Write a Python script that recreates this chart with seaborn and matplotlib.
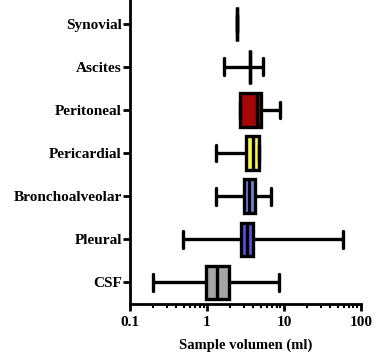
import pandas as pd
import matplotlib.pyplot as plt
import seaborn as sns

# Sample types (top to bottom) and five-number summaries
samples = ['Synovial', 'Ascites', 'Peritoneal', 'Pericardial',
           'Bronchoalveolar', 'Pleural', 'CSF']
mins = [2.45, 1.65, 2.7, 1.3, 1.3, 0.49, 0.2]
q1s = [2.45, 3.6, 2.7, 3.2, 3.0, 2.75, 0.98]
medians = [2.45, 3.6, 4.45, 4.0, 3.5, 3.3, 1.35]
q3s = [2.45, 3.6, 5.0, 4.7, 4.2, 3.9, 1.9]
maxs = [2.45, 5.3, 8.9, 4.7, 6.8, 59, 8.7]
colors = ['black', 'white', '#a50606', '#f7f74a', '#6f82dc', '#5454dc', '#a6a6a6']
xticks = [0.1, 1, 10, 100]
xtick_labels = ['0.1', '1', '10', '100']

# five points per group -> quartiles land exactly on the summary values
rows = []
for i, s in enumerate(samples):
    for v in (mins[i], q1s[i], medians[i], q3s[i], maxs[i]):
        rows.append({'sample': s, 'volume': v})
df = pd.DataFrame(rows)

sns.set_style('ticks')
plt.rcParams['font.family'] = ['Liberation Serif', 'DejaVu Serif']
plt.rcParams['text.color'] = 'black'
plt.rcParams['axes.labelcolor'] = 'black'
plt.rcParams['xtick.color'] = 'black'
plt.rcParams['ytick.color'] = 'black'

fig = plt.figure(figsize=(3.91, 3.56), dpi=100)
ax = fig.add_axes([0.333, 0.146, 0.59, 0.854])

sns.boxplot(data=df, x='volume', y='sample', hue='sample', order=samples,
            hue_order=samples, palette=colors, legend=False, whis=(0, 100),
            saturation=1, linecolor='black', linewidth=2.4, width=0.78,
            log_scale=True, ax=ax)

ax.set_xlim(0.1, 100)
ax.set_ylim(6.5, -0.55)
ax.set_xticks(xticks, labels=xtick_labels)
ax.set_xlabel('Sample volumen (ml)', fontsize=10.5, fontweight='bold', labelpad=7)
ax.set_ylabel('')
for lab in ax.get_xticklabels() + ax.get_yticklabels():
    lab.set_fontweight('bold')
    lab.set_fontsize(11)
ax.tick_params(axis='both', which='major', width=2, length=5, color='black')
ax.tick_params(axis='y', pad=1)
ax.tick_params(axis='x', which='minor', width=1.5, length=3, color='black')
for side in ['left', 'bottom']:
    ax.spines[side].set_linewidth(2)
    ax.spines[side].set_color('black')
sns.despine(ax=ax)

plt.savefig('out.png', dpi=100)
